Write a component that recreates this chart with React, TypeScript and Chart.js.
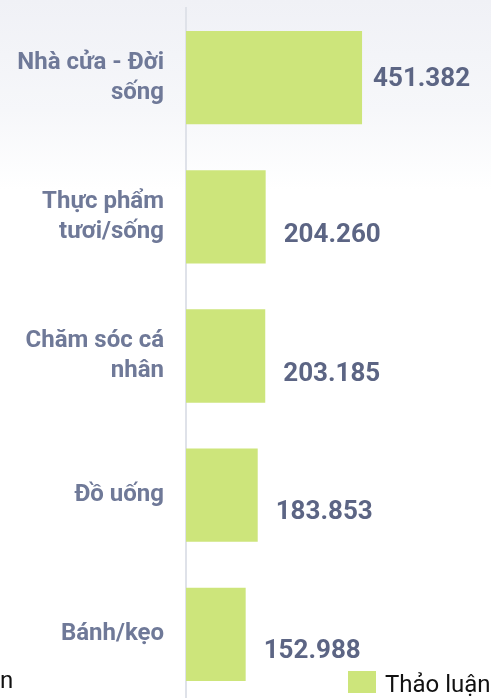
import React, { useEffect, useRef } from "react";
import { Chart, registerables } from "chart.js";

Chart.register(...registerables);

const categories: (string | string[])[] = [
  ["Nhà cửa - Đời", "sống"],
  ["Thực phẩm", "tươi/sống"],
  ["Chăm sóc cá", "nhân"],
  "Đồ uống",
  "Bánh/kẹo",
];
const seriesName = "Thảo luận";
const values = [451382, 204260, 203185, 183853, 152988];
const valueLabels = ["451.382", "204.260", "203.185", "183.853", "152.988"];
const xMax = 782000;

const BAR_COLOR = "#cde57b";
const CAT_COLOR = "#6f7998";
const VAL_COLOR = "#5c6584";

const labelOffsets = [
  [11, 2],
  [18, 19],
  [18, 18],
  [18, 17],
  [18, 17],
];

const valueLabelPlugin = {
  id: "valueLabels",
  afterDatasetsDraw(chart: any) {
    const ctx = chart.ctx;
    const meta = chart.getDatasetMeta(0);
    ctx.save();
    ctx.font = "bold 26px Roboto";
    ctx.fillStyle = VAL_COLOR;
    ctx.textAlign = "left";
    ctx.textBaseline = "middle";
    meta.data.forEach((bar: any, i: number) => {
      const [dx, dy] = labelOffsets[i] || [18, 18];
      ctx.fillText(valueLabels[i], bar.x + dx, bar.y + dy);
    });
    ctx.restore();
  },
};

export default function App() {
  const ref = useRef<HTMLCanvasElement | null>(null);
  useEffect(() => {
    if (!ref.current) return;
    const chart = new Chart(ref.current, {
      type: "bar",
      data: {
        labels: categories,
        datasets: [
          {
            label: seriesName,
            data: values,
            backgroundColor: BAR_COLOR,
            borderWidth: 0,
            categoryPercentage: 0.67,
            barPercentage: 1,
          },
        ],
      },
      options: {
        indexAxis: "y",
        animation: false,
        responsive: true,
        maintainAspectRatio: false,
        layout: { padding: { top: 8, right: 0, bottom: 0, left: 0 } },
        plugins: {
          legend: { display: false },
          tooltip: { enabled: false },
        },
        scales: {
          x: {
            display: false,
            min: 0,
            max: xMax,
          },
          y: {
            grid: { display: false, drawTicks: false },
            border: { display: true, color: "#dfe2e9", width: 2 },
            ticks: {
              color: CAT_COLOR,
              padding: 22,
              font: { family: "Roboto", size: 24, weight: "bold", lineHeight: 1.25 },
            },
            afterFit(scale: any) {
              scale.width = 186;
              scale.paddingTop = 0;
              scale.paddingBottom = 0;
            },
          },
        },
      },
      plugins: [valueLabelPlugin],
    } as any);
    return () => chart.destroy();
  }, []);

  return (
    <div
      style={{
        position: "absolute",
        top: 0,
        left: 0,
        width: 491,
        height: 704,
        background: "linear-gradient(to bottom, #f0f1f6 0px, #f6f7fa 110px, #ffffff 190px)",
        overflow: "hidden",
        fontFamily: "Roboto",
      }}
    >
      <div style={{ position: "absolute", top: 0, left: 0, width: 491, height: 704 }}>
        <canvas ref={ref} />
      </div>
      <div
        style={{
          position: "absolute",
          left: 0,
          top: 666,
          fontSize: 24,
          lineHeight: "28px",
          color: "#111",
        }}
      >
        n
      </div>
      <div
        style={{
          position: "absolute",
          left: 348,
          top: 670,
          display: "flex",
          alignItems: "flex-start",
          fontSize: 24,
          lineHeight: "28px",
          color: "#111",
          whiteSpace: "nowrap",
        }}
      >
        <span style={{ width: 28, height: 22, marginTop: 1, background: BAR_COLOR, display: "inline-block", marginRight: 9 }} />
        <span>{seriesName}</span>
      </div>
    </div>
  );
}
